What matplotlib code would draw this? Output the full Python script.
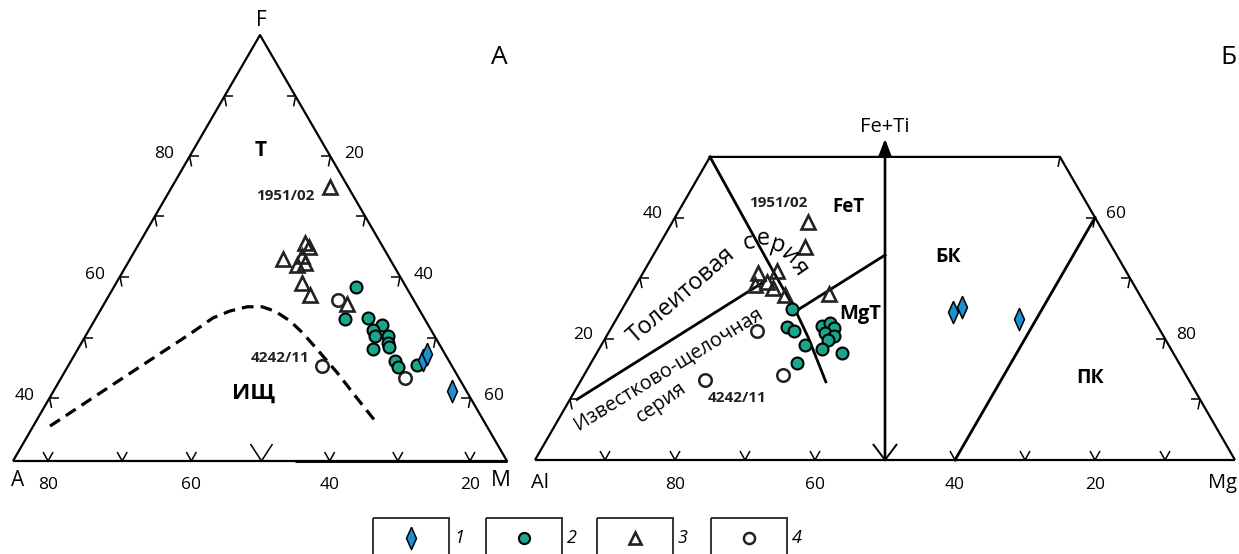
import numpy as np
import matplotlib.pyplot as plt
from matplotlib.patches import Rectangle

plt.rcParams['font.family'] = ['Open Sans', 'DejaVu Sans']

# ---------- A: AFM diagram, values in % of the drawn triangle (F, M; A = rest)
afm_dia_f = [23.7, 25.1, 16.4]
afm_dia_m = [71.1, 71.3, 80.7]
afm_dot_f = [40.8, 33.3, 33.6, 31.9, 30.8, 29.3, 29.3, 27.7, 26.8, 26.3, 23.5, 22.1, 22.5]
afm_dot_m = [49.0, 50.5, 55.1, 58.7, 57.5, 58.6, 61.2, 62.1, 62.7, 59.7, 65.6, 66.9, 70.5]
afm_tri_f = [64.3, 51.2, 50.2, 47.4, 48.1, 46.0, 46.5, 41.8, 39.0, 36.9]
afm_tri_m = [32.0, 33.5, 34.8, 31.0, 34.4, 34.5, 35.9, 37.6, 40.6, 49.2]
afm_ring_f = [37.8, 22.3, 19.5]
afm_ring_m = [46.9, 51.4, 69.6]
# dashed boundary Т / ИЩ
afm_bound_f = [8.2, 19.0, 29.8, 33.6, 35.2, 36.2, 36.2, 35.2, 32.9, 30.0, 26.5, 20.7, 14.8, 8.9]
afm_bound_m = [3.4, 12.1, 20.9, 23.7, 26.3, 29.3, 32.3, 35.4, 39.6, 43.7, 48.1, 55.3, 62.2, 69.2]
afm_side_ticks = [14.8, 28.9, 43.3, 57.4, 71.5, 85.6]
afm_left_labels = {14.8: '40', 43.3: '60', 71.5: '80'}
afm_right_labels = {14.8: '60', 43.3: '40', 71.5: '20'}
afm_base_ticks = [7.1, 22.1, 36.1, 50.3, 64.1, 77.9, 92.5]
afm_base_labels = {7.1: '80', 36.1: '60', 64.1: '40', 92.5: '20'}

# ---------- Б: Jensen cation plot (Fe+Ti, Mg in %; Al = rest)
jen_dia_fe = [24.4, 25.2, 23.3]
jen_dia_mg = [47.5, 48.4, 57.5]
jen_dot_fe = [24.9, 21.9, 21.3, 19.0, 16.0, 22.1, 22.6, 21.8, 21.0, 20.5, 19.8, 18.3, 17.7]
jen_dot_mg = [24.3, 25.0, 26.4, 29.1, 29.4, 30.0, 30.8, 31.8, 30.9, 32.5, 32.0, 31.8, 35.0]
jen_tri_fe = [39.3, 35.1, 30.9, 31.2, 29.4, 28.9, 28.4, 27.2, 27.4]
jen_tri_mg = [19.4, 21.0, 16.4, 19.0, 18.4, 17.0, 19.8, 22.1, 28.3]
jen_ring_fe = [21.3, 14.0, 13.2]
jen_ring_mg = [21.1, 28.4, 17.7]
jen_thca_fe = [10.0, 29.5]
jen_thca_mg = [1.0, 18.1]
jen_curve_fe = [50.0, 31.4, 24.75, 20.3, 12.9]
jen_curve_mg = [0.0, 18.2, 24.8, 28.85, 35.1]
jen_fetmgt_fe = [24.8, 33.8]
jen_fetmgt_mg = [25.2, 33.1]
jen_pk_fe = [0, 40]
jen_pk_mg = [60, 60]
jen_top = 50
jen_base_ticks = [10, 20, 30, 40, 60, 70, 80, 90]
jen_base_labels = {20: '80', 40: '60', 60: '40', 80: '20'}
jen_left_ticks = [10, 20, 30, 40]
jen_left_labels = {20: '20', 40: '40'}
jen_right_ticks = [10, 20, 30, 40, 50]
jen_right_labels = {20: '80', 40: '60'}

TEAL = '#19a68b'
BLUE = '#1e8fd3'

LA, LM, LF = np.array([13., 461.]), np.array([507., 461.]), np.array([260., 35.])
RA, RM = np.array([535., 460.]), np.array([1235., 460.])
RF = np.array([885., 460. - 606.2])


def bary(p0, p1, p2, u, v):
    u = np.asarray(u, float) / 100
    v = np.asarray(v, float) / 100
    w = 1 - u - v
    return w * p0[0] + v * p1[0] + u * p2[0], w * p0[1] + v * p1[1] + u * p2[1]


def afm_xy(f, m):
    return bary(LA, LM, LF, f, m)


def jen_xy(fe, mg):
    return bary(RA, RM, RF, fe, mg)


fig = plt.figure(figsize=(12.39, 5.54), dpi=100)
ax = fig.add_axes([0, 0, 1, 1])
ax.set_xlim(0, 1239)
ax.set_ylim(554, 0)
ax.axis('off')

K = dict(color='black', solid_capstyle='butt')


def tick_side(x, y, side):
    s = 1 if side == 'left' else -1
    ax.plot([x, x + 9 * s], [y, y], lw=1.1, **K)
    ax.plot([x, x + 2 * s], [y, y + 10], lw=1.1, **K)


def tick_base(x, y, big=False):
    w, h = (11, 17) if big else (5, 9)
    ax.plot([x - w, x, x + w], [y - h, y, y - h], lw=1.1, **K)


# ---- A frame
xs, ys = afm_xy([0, 100, 0, 0], [0, 0, 100, 0])
ax.plot(xs, ys, lw=1.6, **K)
xs, ys = afm_xy([0, 0], [57, 100])
ax.plot(xs, ys, lw=2.1, **K)
for t in afm_side_ticks:
    x, y = afm_xy(t, 0)
    tick_side(x, y, 'left')
    if t in afm_left_labels:
        ax.text(x - 25, y - 2, afm_left_labels[t], fontsize=12.5, ha='center', va='center')
    x, y = afm_xy(t, 100 - t)
    tick_side(x, y, 'right')
    if t in afm_right_labels:
        ax.text(x + 24, y - 2, afm_right_labels[t], fontsize=12.5, ha='center', va='center')
for t in afm_base_ticks:
    x, y = afm_xy(0, t)
    tick_base(x, y, big=(t == 50.3))
    if t in afm_base_labels:
        ax.text(x, y + 24, afm_base_labels[t], fontsize=12.5, ha='center', va='center')

xs, ys = afm_xy(afm_bound_f, afm_bound_m)
ax.plot(xs, ys, color='black', lw=2.3, linestyle=(0, (3.7, 2.2)), solid_joinstyle='round')

ax.text(261, 20, 'F', fontsize=15, ha='center', va='center')
ax.text(18, 481, 'A', fontsize=15, ha='center', va='center')
ax.text(501, 481, 'M', fontsize=16, ha='center', va='center')
ax.text(499, 58, 'А', fontsize=19, ha='center', va='center')
ax.text(261, 150, 'Т', fontsize=15, fontweight='bold', ha='center', va='center')
ax.text(253, 393, 'ИЩ', fontsize=16, fontweight='bold', ha='center', va='center')

# ---- Б frame
xs, ys = jen_xy([0, jen_top, jen_top, 0], [0, 0, 100 - jen_top, 100])
ax.plot(xs, ys, lw=1.6, **K)
xs, ys = jen_xy([0, 0], [0, 100])
ax.plot(xs, ys, lw=1.6, **K)
for t in jen_left_ticks:
    x, y = jen_xy(t, 0)
    tick_side(x, y, 'left')
    if t in jen_left_labels:
        ax.text(x - 22, y - 4, jen_left_labels[t], fontsize=12.5, ha='center', va='center')
for t in jen_right_ticks:
    x, y = jen_xy(t, 100 - t)
    tick_side(x, y, 'right')
    if t in jen_right_labels:
        ax.text(x + 21, y - 4, jen_right_labels[t], fontsize=12.5, ha='center', va='center')
for t in jen_base_ticks:
    x, y = jen_xy(0, t)
    tick_base(x, y)
    if t in jen_base_labels:
        ax.text(x, y + 25, jen_base_labels[t], fontsize=12.5, ha='center', va='center')

# central Fe+Ti axis (Al = Mg)
x0, y0 = jen_xy(0, 50)
x1, y1 = jen_xy(53, 50 - 53 / 2)
ax.annotate('', xy=(x1, y1), xytext=(x0, y0),
            arrowprops=dict(arrowstyle='-|>,head_length=1.0,head_width=0.38', lw=1.9,
                            color='black', shrinkA=0, shrinkB=0))
ax.plot([x0 - 12, x0, x0 + 12], [y0 - 16, y0, y0 - 16], lw=1.4, **K)
ax.text(885, 127, 'Fe+Ti', fontsize=14.5, ha='center', va='center')

for fe, mg in [(jen_thca_fe, jen_thca_mg), (jen_curve_fe, jen_curve_mg),
               (jen_fetmgt_fe, jen_fetmgt_mg), (jen_pk_fe, jen_pk_mg)]:
    xs, ys = jen_xy(fe, mg)
    ax.plot(xs, ys, lw=2.0, color='black', solid_joinstyle='round')

ax.text(540, 483, 'Al', fontsize=14.5, ha='center', va='center')
ax.text(1222, 483, 'Mg', fontsize=14.5, ha='center', va='center')
ax.text(1228, 58, 'Б', fontsize=19, ha='center', va='center')
ax.text(848, 207, 'FeT', fontsize=13.5, fontweight='bold', ha='center', va='center')
ax.text(860, 314, 'MgT', fontsize=14.5, fontweight='bold', ha='center', va='center')
ax.text(948, 257, 'БК', fontsize=14, fontweight='bold', ha='center', va='center')
ax.text(1090, 378, 'ПК', fontsize=14, fontweight='bold', ha='center', va='center')
ax.text(682, 295, 'Толеитовая', fontsize=17, rotation=41, ha='center', va='center',
        rotation_mode='anchor')
for ch, x, y, r in [('с', 749, 243, 14), ('е', 763, 239, 2), ('р', 778, 246, -18),
                    ('и', 790, 256, -40), ('я', 799, 268, -55)]:
    ax.text(x, y, ch, fontsize=17, rotation=r, ha='center', va='center', rotation_mode='anchor')
ax.text(668, 369, 'Известково-щелочная', fontsize=14.3, rotation=31.5, ha='center',
        va='center', rotation_mode='anchor')
ax.text(661, 402, 'серия', fontsize=14.3, rotation=35, ha='center', va='center',
        rotation_mode='anchor')

# ---- points
diamond = [(0, 1), (0.45, 0), (0, -1), (-0.45, 0), (0, 1)]
circ = dict(linestyle='none', marker='o', ms=8.6, mfc=TEAL, mec='black', mew=1.5)
dia = dict(linestyle='none', marker=diamond, ms=16, mfc=BLUE, mec='black', mew=1.1)
tri = dict(linestyle='none', marker='^', ms=9.5, mfc='none', mec='#222222', mew=1.9)
ring = dict(linestyle='none', marker='o', ms=9, mfc='none', mec='#222222', mew=1.8)

ax.plot(*afm_xy(afm_tri_f, afm_tri_m), **tri)
ax.plot(*afm_xy(afm_ring_f, afm_ring_m), **ring)
ax.plot(*afm_xy(afm_dot_f, afm_dot_m), **circ)
ax.plot(*afm_xy(afm_dia_f, afm_dia_m), **dia)
ax.plot(*jen_xy(jen_tri_fe, jen_tri_mg), **tri)
ax.plot(*jen_xy(jen_ring_fe, jen_ring_mg), **ring)
ax.plot(*jen_xy(jen_dot_fe, jen_dot_mg), **circ)
ax.plot(*jen_xy(jen_dia_fe, jen_dia_mg), **dia)

lab = dict(fontsize=11, fontweight='bold', color='#222222', ha='center', va='center',
           textcoords='offset pixels')
ax.annotate('1951/02', afm_xy(afm_tri_f[0], afm_tri_m[0]), xytext=(-45, -9), **lab)
ax.annotate('4242/11', afm_xy(afm_ring_f[1], afm_ring_m[1]), xytext=(-42, 8), **lab)
ax.annotate('1951/02', jen_xy(jen_tri_fe[0], jen_tri_mg[0]), xytext=(-30, 19), **lab)
ax.annotate('4242/11', jen_xy(jen_ring_fe[2], jen_ring_mg[2]), xytext=(32, -18), **lab)

# ---- legend
leg_styles = [dict(dia, ms=16), dict(circ, ms=8), dict(tri, ms=8), dict(ring, ms=8)]
leg_x = [373, 486, 597, 711]
for i, (x, st) in enumerate(zip(leg_x, leg_styles)):
    ax.add_patch(Rectangle((x, 518), 76, 50, fill=False, lw=1.4, ec='#333333'))
    ax.plot([x + 38], [538], **st)
    ax.text(x + 86, 538, str(i + 1), fontsize=13, fontstyle='italic', ha='center', va='center')

fig.savefig('out.png', dpi=100)
